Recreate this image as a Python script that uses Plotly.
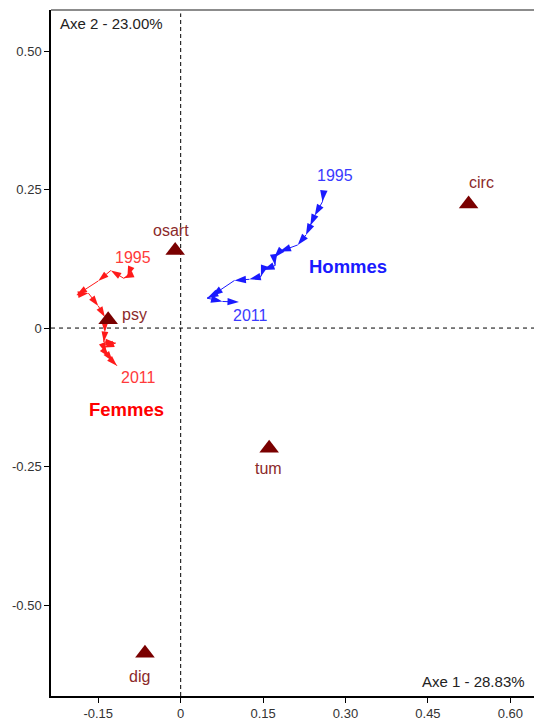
import plotly.graph_objects as go

# modalites (triangles)
cat_labels = ["circ", "osart", "psy", "tum", "dig"]
cat_x = [0.524, -0.010, -0.132, 0.161, -0.065]
cat_y = [0.224, 0.140, 0.015, -0.217, -0.587]

years = list(range(1995, 2012))

# trajectoire Femmes 1995 -> 2011
fem_x = [-0.093, -0.097, -0.104, -0.127, -0.150, -0.189, -0.168, -0.150, -0.138,
         -0.138, -0.140, -0.118, -0.140, -0.136, -0.130, -0.124, -0.116]
fem_y = [0.103, 0.093, 0.090, 0.104, 0.085, 0.060, 0.063, 0.040, 0.020,
         -0.008, -0.025, -0.027, -0.035, -0.045, -0.052, -0.060, -0.068]

# trajectoire Hommes 1995 -> 2011
hom_x = [0.260, 0.258, 0.244, 0.236, 0.228, 0.213, 0.180, 0.170, 0.172,
         0.150, 0.146, 0.125, 0.098, 0.056, 0.048, 0.076, 0.106]
hom_y = [0.244, 0.228, 0.203, 0.185, 0.168, 0.150, 0.138, 0.127, 0.113,
         0.105, 0.093, 0.088, 0.086, 0.058, 0.054, 0.048, 0.047]

x_ticks = [-0.15, 0, 0.15, 0.30, 0.45, 0.60]
x_ticktext = ["-0.15", "0", "0.15", "0.30", "0.45", "0.60"]
y_ticks = [-0.50, -0.25, 0, 0.25, 0.50]
y_ticktext = ["-0.50", "-0.25", "0", "0.25", "0.50"]

FONT = "Liberation Sans, Arial, sans-serif"

fig = go.Figure()

fig.add_trace(go.Scatter(
    x=fem_x, y=fem_y, mode="lines+markers", text=years,
    line=dict(color="#ff1a1a", width=1),
    marker=dict(symbol="arrow", angleref="previous", size=11, color="#ff1a1a"),
    hoverinfo="text", showlegend=False))

fig.add_trace(go.Scatter(
    x=hom_x, y=hom_y, mode="lines+markers", text=years,
    line=dict(color="#1a1aff", width=1),
    marker=dict(symbol="arrow", angleref="previous", size=12, color="#1a1aff"),
    hoverinfo="text", showlegend=False))

fig.add_trace(go.Scatter(
    x=cat_x, y=cat_y, mode="markers",
    marker=dict(symbol="triangle-up", size=17, color="#7a0000"),
    text=cat_labels, hoverinfo="text", showlegend=False))

# etiquettes des modalites
cat_pos = {"circ": (13, 21), "osart": (-4, 20), "psy": (26, 5), "tum": (-1, -20), "dig": (-5, -23)}
for lab, x, y in zip(cat_labels, cat_x, cat_y):
    dx, dy = cat_pos[lab]
    fig.add_annotation(x=x, y=y, text=lab, showarrow=False, xshift=dx, yshift=dy,
                       font=dict(family=FONT, size=16, color="#8b2a2a"))

# annees et groupes
fig.add_annotation(x=fem_x[0], y=fem_y[0], text="1995", showarrow=False, xshift=3, yshift=13,
                   font=dict(family=FONT, size=16, color="#ff3a3a"))
fig.add_annotation(x=fem_x[-1], y=fem_y[-1], text="2011", showarrow=False, xshift=22, yshift=-12,
                   font=dict(family=FONT, size=16, color="#ff3a3a"))
fig.add_annotation(x=hom_x[0], y=hom_y[0], text="1995", showarrow=False, xshift=11, yshift=17,
                   font=dict(family=FONT, size=16, color="#3a3aff"))
fig.add_annotation(x=hom_x[-1], y=hom_y[-1], text="2011", showarrow=False, xshift=12, yshift=-13,
                   font=dict(family=FONT, size=16, color="#3a3aff"))
fig.add_annotation(x=-0.098, y=-0.147, text="<b>Femmes</b>", showarrow=False,
                   font=dict(family=FONT, size=18.5, color="#ff0000"))
fig.add_annotation(x=0.304, y=0.111, text="<b>Hommes</b>", showarrow=False,
                   font=dict(family=FONT, size=18.5, color="#1a1aff"))

# titres des axes dans le cadre
fig.add_annotation(xref="paper", yref="paper", x=0.014, y=0.996, xanchor="left", yanchor="top",
                   text="Axe 2 - 23.00%", showarrow=False,
                   font=dict(family=FONT, size=15, color="#222"))
fig.add_annotation(xref="paper", yref="paper", x=0.985, y=0.006, xanchor="right", yanchor="bottom",
                   text="Axe 1 - 28.83%", showarrow=False,
                   font=dict(family=FONT, size=15, color="#222"))

# axes en pointilles
fig.add_shape(type="line", xref="x", yref="paper", x0=0, x1=0, y0=0, y1=0.995,
              line=dict(color="black", width=1, dash="4px,3px"), layer="below")
fig.add_shape(type="line", xref="paper", yref="y", x0=0, x1=1, y0=0, y1=0,
              line=dict(color="black", width=1, dash="4px,4px"), layer="below")
fig.add_shape(type="line", xref="paper", yref="paper", x0=0, x1=1, y0=1, y1=1,
              line=dict(color="#666", width=1.5))

fig.update_xaxes(range=[-0.236, 0.643], tickvals=x_ticks, ticktext=x_ticktext,
                 showgrid=False, zeroline=False, showline=True, linecolor="black", linewidth=1.5,
                 ticks="outside", ticklen=5, tickcolor="black",
                 tickfont=dict(family=FONT, size=13, color="#333"))
fig.update_yaxes(range=[-0.664, 0.574], tickvals=y_ticks, ticktext=y_ticktext,
                 showgrid=False, zeroline=False, showline=True, linecolor="black", linewidth=1.5,
                 ticks="outside", ticklen=5, tickcolor="black",
                 tickfont=dict(family=FONT, size=13, color="#333"))

fig.update_layout(width=534, height=721, margin=dict(l=51, r=0, t=10, b=23),
                  plot_bgcolor="white", paper_bgcolor="white")

# pas de marge autour du graphique dans la page
fig.write_html("out.html", config={"displayModeBar": False},
               post_script="document.body.style.margin='0';document.body.style.overflow='hidden';")
